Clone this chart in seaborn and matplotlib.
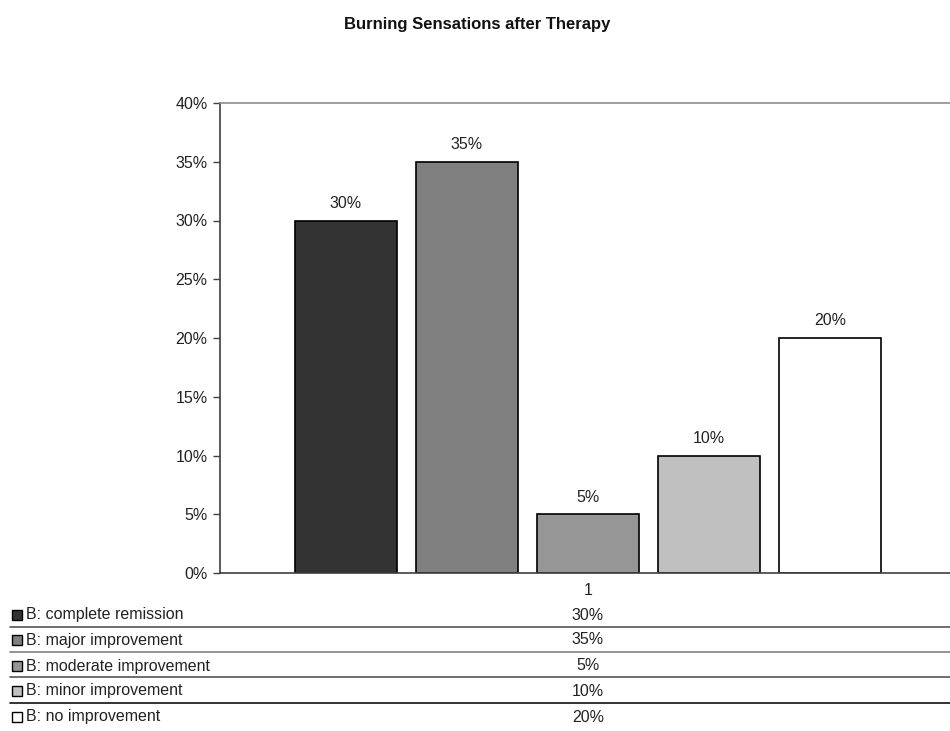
import matplotlib
matplotlib.use("Agg")
import matplotlib.pyplot as plt
from matplotlib.lines import Line2D
from matplotlib.patches import Rectangle
import pandas as pd
import seaborn as sns

# Outcome categories and share of patients in each
categories = ["1"]
outcomes = [
    "B: complete remission",
    "B: major improvement",
    "B: moderate improvement",
    "B: minor improvement",
    "B: no improvement",
]
shares = [30, 35, 5, 10, 20]
value_labels = ["30%", "35%", "5%", "10%", "20%"]
fills = ["#333333", "#808080", "#969696", "#C0C0C0", "#FFFFFF"]
y_ticks = [0, 5, 10, 15, 20, 25, 30, 35, 40]
y_tick_labels = ["0%", "5%", "10%", "15%", "20%", "25%", "30%", "35%", "40%"]

df = pd.DataFrame({
    "group": categories * len(outcomes),
    "outcome": outcomes,
    "share": shares,
})

sns.set_theme(style="white")
plt.rcParams["font.family"] = ["Liberation Sans", "DejaVu Sans"]
FS = 11.5

W, H = 950, 731
fig = plt.figure(figsize=(W / 100, H / 100), dpi=100)
fig.patch.set_facecolor("white")

def fx(px):
    return px / W

def fy(py):
    return 1 - py / H

ax = fig.add_axes([fx(220), fy(573), fx(956) - fx(220), fy(103) - fy(573)])

sns.barplot(
    data=df, x="group", y="share", hue="outcome", hue_order=outcomes,
    palette=fills, edgecolor="black", linewidth=1.2, width=0.822, gap=0.157,
    legend=False, ax=ax, saturation=1,
)

ax.set_ylim(0, 40)
ax.set_xlim(-0.5, 0.5)
ax.set_yticks(y_ticks)
ax.set_yticklabels(y_tick_labels, fontsize=FS, color="#222222")
ax.set_xticks([0])
ax.set_xticklabels(categories, fontsize=FS, color="#222222")
ax.set_xlabel("")
ax.set_ylabel("")
ax.tick_params(axis="y", which="both", left=True, length=5, width=1,
               color="#404040", pad=4)
ax.tick_params(axis="x", length=0, pad=7)
ax.set_facecolor("white")

for side in ["left", "bottom"]:
    ax.spines[side].set_color("#404040")
    ax.spines[side].set_linewidth(1.2)
for side in ["top", "right"]:
    ax.spines[side].set_color("#8c8c8c")
    ax.spines[side].set_linewidth(1.2)

for container, lab in zip(ax.containers, value_labels):
    ax.bar_label(container, labels=[lab], padding=7, fontsize=FS,
                 color="#222222")

fig.text(fx(477), fy(24), "Burning Sensations after Therapy",
         ha="center", va="center", fontsize=12, fontweight="bold",
         color="#111111")

# Data table beneath the plot: legend keys, outcome names and values
row_centers = [615, 640, 666, 691, 717]
sep_rows = [627, 652, 677, 703]
sep_colors = ["#555555", "#808080", "#555555", "#111111"]
col_x = ax.transData.transform((0, 0))[0] / W
for yc, name, lab, col in zip(row_centers, outcomes, value_labels, fills):
    fig.patches.append(Rectangle((fx(12), fy(yc + 5)), fx(10), fy(yc - 5) - fy(yc + 5),
                                 transform=fig.transFigure, facecolor=col,
                                 edgecolor="black", linewidth=1.0))
    fig.text(fx(26), fy(yc), name, ha="left", va="center", fontsize=FS,
             color="#222222")
    fig.text(col_x, fy(yc), lab, ha="center", va="center", fontsize=FS,
             color="#222222")
for ys, c in zip(sep_rows, sep_colors):
    fig.add_artist(Line2D([fx(10), 1.0], [fy(ys), fy(ys)],
                          transform=fig.transFigure, color=c, linewidth=1.2))

fig.savefig("out.png", dpi=100, facecolor="white")
